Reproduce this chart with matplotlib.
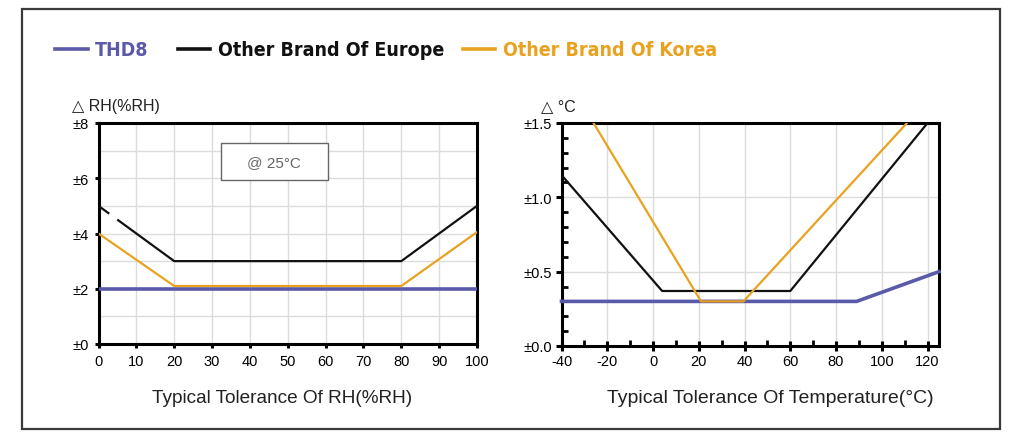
import matplotlib
matplotlib.use("Agg")
import matplotlib.pyplot as plt
from matplotlib.patches import Rectangle
from matplotlib.ticker import MultipleLocator
import numpy as np

plt.rcParams["axes.unicode_minus"] = False

# ---------------- data ----------------
rh_x_thd8 = [0, 100]
rh_y_thd8 = [2, 2]
rh_x_europe = [0, 2.6, np.nan, 5.2, 20, 80, 100]
rh_y_europe = [5, 4.74, np.nan, 4.48, 3, 3, 5]
rh_x_korea = [0, 20, 80, 100]
rh_y_korea = [4, 2.1, 2.1, 4.05]

t_x_thd8 = [-40, 89, 125]
t_y_thd8 = [0.3, 0.3, 0.5]
t_x_europe = [-40, 4, 60, 120]
t_y_europe = [1.15, 0.37, 0.37, 1.5]
t_x_korea = [-26, 21, 39.5, 111]
t_y_korea = [1.5, 0.3, 0.3, 1.5]

rh_xticks = list(range(0, 101, 10))
rh_yticks = [0, 2, 4, 6, 8]
rh_ylabels = ["±0", "±2", "±4", "±6", "±8"]
t_xticks = list(range(-40, 121, 20))
t_yticks = [0.0, 0.5, 1.0, 1.5]
t_ylabels = ["±0.0", "±0.5", "±1.0", "±1.5"]

legend_names = ["THD8", "Other Brand Of Europe", "Other Brand Of Korea"]

# ---------------- style ----------------
BLUE = "#5a5aa8"
BLACK = "#111111"
ORANGE = "#e9a21f"
GRID = "#dcdcdc"
SANS = ["Liberation Sans", "DejaVu Sans"]

W, H = 1024, 439
fig = plt.figure(figsize=(W / 100, H / 100), dpi=100)

def fx(px):
    return px / W

def fy(py):
    return 1 - py / H

# outer frame
fig.patches.append(Rectangle((fx(22), fy(430)), fx(1000) - fx(22), fy(10) - fy(430),
                             transform=fig.transFigure, fill=False,
                             edgecolor="#3a3a3a", linewidth=1.6))

# legend
legend_items = [
    (55, 88, 95, BLUE, legend_names[0]),
    (178, 210, 218, BLACK, legend_names[1]),
    (463, 495, 503, ORANGE, legend_names[2]),
]
for x0, x1, xt, col, name in legend_items:
    fig.add_artist(plt.Line2D([fx(x0), fx(x1)], [fy(50), fy(50)], color=col,
                              linewidth=2.6, transform=fig.transFigure))
    fig.text(fx(xt), fy(51), name, color=col, fontsize=14, fontweight="bold",
             family=["DejaVu Sans"], fontstretch="condensed", va="center", ha="left")

def style_axes(ax):
    for s in ax.spines.values():
        s.set_linewidth(2.2)
        s.set_color("#000000")
    ax.set_axisbelow(True)

# ---------------- left chart ----------------
ax1 = fig.add_axes([fx(98.5), fy(345), fx(477) - fx(98.5), fy(124) - fy(345)])
ax1.plot(rh_x_thd8, rh_y_thd8, color=BLUE, linewidth=2.6, zorder=3)
ax1.plot(rh_x_europe, rh_y_europe, color=BLACK, linewidth=1.6, zorder=3)
ax1.plot(rh_x_korea, rh_y_korea, color=ORANGE, linewidth=1.6, zorder=3)
ax1.set_xlim(0, 100)
ax1.set_ylim(0, 8)
ax1.set_xticks(rh_xticks)
ax1.set_yticks(rh_yticks)
ax1.set_yticklabels(rh_ylabels)
ax1.yaxis.set_minor_locator(MultipleLocator(1))
ax1.grid(True, which="both", color=GRID, linewidth=1.0)
ax1.tick_params(which="major", direction="out", length=3, width=2.2, labelsize=10.5, pad=4)
ax1.tick_params(which="minor", length=0)
for lab in ax1.get_xticklabels() + ax1.get_yticklabels():
    lab.set_family(SANS)
style_axes(ax1)
ax1.add_patch(Rectangle((32.3, 5.92), 28.3, 1.36, transform=ax1.transData,
                        facecolor="white", edgecolor="#666666", linewidth=1.0, zorder=4))
ax1.text(46.45, 6.6, "@ 25°C", color="#666666", fontsize=11, family=SANS,
         ha="center", va="center", zorder=5)
fig.text(fx(72), fy(107), "△ RH(%RH)", fontsize=11.5, family=SANS + ["Noto Sans CJK SC"],
         va="center", ha="left", color="#222222")
fig.text(fx(282), fy(399), "Typical Tolerance Of RH(%RH)", fontsize=13.7, family=SANS,
         va="center", ha="center", color="#222222")

# ---------------- right chart ----------------
ax2 = fig.add_axes([fx(561.5), fy(347), fx(939) - fx(561.5), fy(124) - fy(347)])
ax2.plot(t_x_thd8, t_y_thd8, color=BLUE, linewidth=2.6, zorder=3, clip_on=False)
ax2.plot(t_x_europe, t_y_europe, color=BLACK, linewidth=1.6, zorder=3)
ax2.plot(t_x_korea, t_y_korea, color=ORANGE, linewidth=1.6, zorder=3)
ax2.set_xlim(-40, 125)
ax2.set_ylim(0, 1.5)
ax2.set_xticks(t_xticks)
ax2.set_yticks(t_yticks)
ax2.set_yticklabels(t_ylabels)
ax2.xaxis.set_minor_locator(MultipleLocator(10))
ax2.yaxis.set_minor_locator(MultipleLocator(0.1))
ax2.grid(True, which="major", color=GRID, linewidth=1.0)
ax2.tick_params(axis="x", which="major", direction="inout", length=7, width=2.2,
                labelsize=10.5, pad=2)
ax2.tick_params(axis="y", which="major", direction="out", length=4, width=2.2,
                labelsize=10.5, pad=3)
ax2.tick_params(which="minor", direction="in", length=4, width=2.0)
for lab in ax2.get_xticklabels() + ax2.get_yticklabels():
    lab.set_family(SANS)
style_axes(ax2)
fig.text(fx(541), fy(107), "△ °C", fontsize=11.5, family=SANS + ["Noto Sans CJK SC"],
         va="center", ha="left", color="#222222")
fig.text(fx(770), fy(399), "Typical Tolerance Of Temperature(°C)", fontsize=14, family=SANS,
         va="center", ha="center", color="#222222")

fig.savefig("out.png", dpi=100)
